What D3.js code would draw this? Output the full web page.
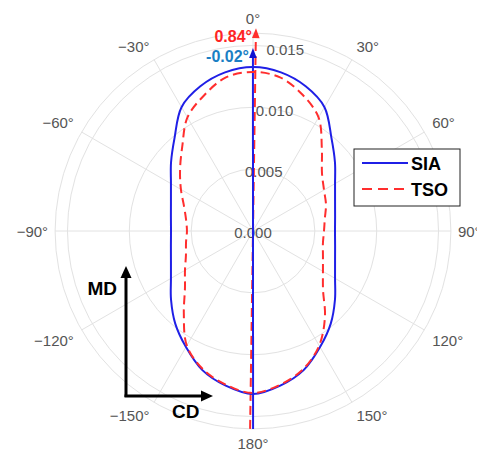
<!DOCTYPE html>
<html>
<head>
<meta charset="utf-8">
<script src="https://cdn.jsdelivr.net/npm/d3@7"></script>
<style>
  body { margin: 0; background: #fff; }
  text { font-family: "Liberation Sans", Arial, sans-serif; }
</style>
</head>
<body>
<div id="chart-container"></div>
<script>
// Chart dimensions and polar centre.
const width = 477;
const height = 455;
const cx = 253;
const cy = 231;
const outerR = 197.9;

// Data: angle in degrees (0 at top, clockwise), radius values.
const angles = [-170, -160, -150, -140, -130, -120, -110, -100, -90, -80, -70, -60, -50, -40, -30, -20, -10,
                0, 10, 20, 30, 40, 50, 60, 70, 80, 90, 100, 110, 120, 130, 140, 150, 160, 170, 180];
const siaValues = [0.01270, 0.01197, 0.01084, 0.00978, 0.00865, 0.00766, 0.00706, 0.00674, 0.00663, 0.00674,
                   0.00706, 0.00766, 0.00865, 0.00986, 0.01156, 0.01245, 0.01302,
                   0.01326, 0.01302, 0.01245, 0.01156, 0.00986, 0.00865, 0.00766, 0.00706, 0.00674, 0.00663,
                   0.00674, 0.00706, 0.00766, 0.00865, 0.00978, 0.01084, 0.01197, 0.01270, 0.01318];
const tsoValues = [0.01262, 0.01188, 0.01070, 0.00870, 0.00718, 0.00635, 0.00577, 0.00550, 0.00534, 0.00550,
                   0.00594, 0.00673, 0.00770, 0.00890, 0.01060, 0.01164, 0.01261,
                   0.01286, 0.01261, 0.01172, 0.01060, 0.00866, 0.00728, 0.00663, 0.00628, 0.00590, 0.00574,
                   0.00574, 0.00602, 0.00653, 0.00739, 0.00905, 0.01070, 0.01188, 0.01262, 0.01310];

// Principal direction arrows
const dirAngles = [0.84, -0.02];
const dirLengths = [0.0164, 0.0148];
const dirLabels = ["0.84\u00b0", "-0.02\u00b0"];

const rTicks = [0, 0.005, 0.010, 0.015];
const rMax = 0.016;
const thetaTicks = [0, 30, 60, 90, 120, 150, 180, -150, -120, -90, -60, -30];

const seriesNames = ["SIA", "TSO"];
const blue = "#1f1fe6";
const red = "#ff2e2e";

const r = d3.scaleLinear().domain([0, rMax]).range([0, outerR]);
const rad = d => d * Math.PI / 180;

const svg = d3.create("svg")
    .attr("width", width)
    .attr("height", height)
    .style("background", "#fff");

const g = svg.append("g").attr("transform", `translate(${cx},${cy})`);

// Grid rings
g.append("g")
  .selectAll("circle")
  .data(rTicks.slice(1).concat([rMax]))
  .join("circle")
    .attr("r", d => r(d))
    .attr("fill", "none")
    .attr("stroke", "#e2e2e2")
    .attr("stroke-width", 1);

// Spokes
g.append("g")
  .selectAll("line")
  .data(d3.range(0, 360, 30))
  .join("line")
    .attr("x1", 0).attr("y1", 0)
    .attr("x2", d => r(rMax) * Math.sin(rad(d)))
    .attr("y2", d => -r(rMax) * Math.cos(rad(d)))
    .attr("stroke", "#e2e2e2")
    .attr("stroke-width", 1);

// Theta labels
g.append("g")
  .selectAll("text")
  .data(thetaTicks)
  .join("text")
    .attr("x", d => (outerR + (Math.abs(d) === 90 ? 7 : 9)) * Math.sin(rad(d)))
    .attr("y", d => -(outerR + 9) * Math.cos(rad(d)))
    .attr("text-anchor", d => Math.sin(rad(d)) > 0.01 ? "start" : Math.sin(rad(d)) < -0.01 ? "end" : "middle")
    .attr("dominant-baseline", d => Math.cos(rad(d)) > 0.01 ? "alphabetic" : Math.cos(rad(d)) < -0.01 ? "hanging" : "central")
    .attr("font-size", 15)
    .attr("fill", "#555")
    .text(d => (d < 0 ? "\u2212" + (-d) : d) + "\u00b0");

// Radial labels
g.append("g")
  .selectAll("text")
  .data(rTicks)
  .join("text")
    .attr("x", d => r(d) * Math.sin(rad(10)))
    .attr("y", d => -r(d) * Math.cos(rad(10)) + 1)
    .attr("text-anchor", "middle")
    .attr("dominant-baseline", "central")
    .attr("font-size", 15)
    .attr("fill", "#555")
    .text(d => d3.format(".3f")(d));

// Curves
const radial = d3.lineRadial()
    .angle(d => rad(d[0]))
    .radius(d => r(d[1]))
    .curve(d3.curveCatmullRomClosed);

const siaPts = angles.map((a, i) => [a, siaValues[i]]);
const tsoPts = angles.map((a, i) => [a, tsoValues[i]]);

// Direction lines (through the centre)
const dirColors = [red, blue];
dirAngles.forEach((a, i) => {
  const t = rad(a);
  const x1 = -r(rMax) * Math.sin(t), y1 = r(rMax) * Math.cos(t);
  const L = r(dirLengths[i]);
  const x2 = L * Math.sin(t), y2 = -L * Math.cos(t);
  const ah = 10;
  g.append("line")
    .attr("x1", x1).attr("y1", y1)
    .attr("x2", (L - ah + 1) * Math.sin(t)).attr("y2", -(L - ah + 1) * Math.cos(t))
    .attr("stroke", dirColors[i])
    .attr("stroke-width", 2)
    .attr("stroke-dasharray", i === 0 ? "9,5" : null);
  // arrowhead
  const bx = (L - ah) * Math.sin(t), by = -(L - ah) * Math.cos(t);
  const px = 3.8 * Math.cos(t), py = 3.8 * Math.sin(t);
  g.append("path")
    .attr("d", `M${x2},${y2}L${bx + px},${by + py}L${bx - px},${by - py}Z`)
    .attr("fill", i === 0 ? red : "#1010d0");
  g.append("text")
    .attr("x", x2 - 4)
    .attr("y", y2 + 14)
    .attr("text-anchor", "end")
    .attr("font-size", 16)
    .attr("font-weight", "bold")
    .attr("fill", i === 0 ? "#ff2424" : "#1a7fc4")
    .text(dirLabels[i]);
});

g.append("path")
    .attr("d", radial(siaPts))
    .attr("fill", "none")
    .attr("stroke", blue)
    .attr("stroke-width", 2);

g.append("path")
    .attr("d", radial(tsoPts))
    .attr("fill", "none")
    .attr("stroke", red)
    .attr("stroke-width", 2)
    .attr("stroke-dasharray", "9,5");

// Legend
const legend = svg.append("g").attr("transform", "translate(354,149)");
legend.append("rect")
    .attr("width", 106).attr("height", 57)
    .attr("fill", "#fff").attr("stroke", "#222").attr("stroke-width", 1);
seriesNames.forEach((name, i) => {
  const y = 14 + i * 26;
  legend.append("line")
    .attr("x1", 8).attr("x2", 54).attr("y1", y).attr("y2", y)
    .attr("stroke", i === 0 ? blue : red)
    .attr("stroke-width", 2)
    .attr("stroke-dasharray", i === 0 ? null : "10,6");
  legend.append("text")
    .attr("x", 57).attr("y", y + 7)
    .attr("font-size", 18).attr("font-weight", "bold")
    .attr("fill", "#000")
    .text(name);
});

// MD / CD orientation arrows
const ax = svg.append("g");
ax.append("line").attr("x1", 126).attr("y1", 397).attr("x2", 126).attr("y2", 276)
    .attr("stroke", "#000").attr("stroke-width", 3);
ax.append("path").attr("d", "M126,266L120.5,278L131.5,278Z").attr("fill", "#000");
ax.append("line").attr("x1", 124.5).attr("y1", 396).attr("x2", 202).attr("y2", 396)
    .attr("stroke", "#000").attr("stroke-width", 3);
ax.append("path").attr("d", "M213,396L201,390.5L201,401.5Z").attr("fill", "#000");
ax.append("text").attr("x", 117).attr("y", 295).attr("text-anchor", "end")
    .attr("font-size", 19).attr("font-weight", "bold").text("MD");
ax.append("text").attr("x", 172).attr("y", 418)
    .attr("font-size", 19).attr("font-weight", "bold").text("CD");

d3.select("#chart-container").append(() => svg.node());
</script>
</body>
</html>
